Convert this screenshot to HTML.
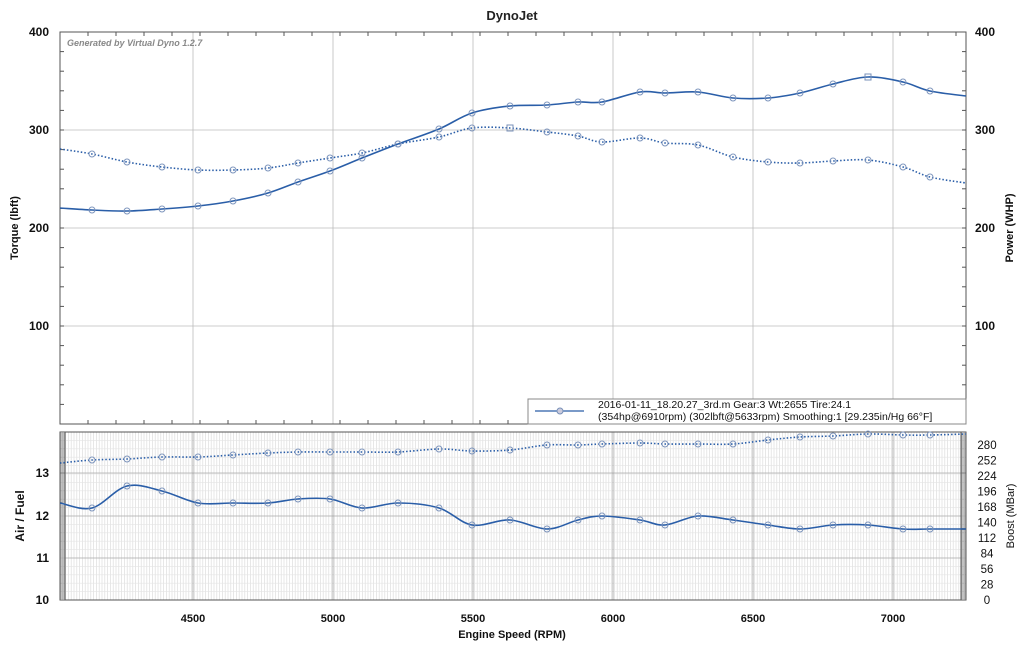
<!DOCTYPE html>
<html><head><meta charset="utf-8"><style>
body{margin:0;background:#fff;width:1024px;height:648px;overflow:hidden;font-family:"Liberation Sans",sans-serif}
svg text{font-family:"Liberation Sans",sans-serif}
</style></head><body>
<svg id="s" width="1024" height="648" xmlns="http://www.w3.org/2000/svg">
<rect width="1024" height="648" fill="#fff"/>
<text x="512" y="20" text-anchor="middle" font-size="13" font-weight="bold" fill="#222">DynoJet</text>
<g id="grid"></g>
<text x="67" y="46" font-size="9" font-style="italic" font-weight="bold" fill="#888">Generated by Virtual Dyno 1.2.7</text>
<g font-size="12" fill="#111" font-weight="bold">
<text x="49" y="36" text-anchor="end">400</text><text x="49" y="134" text-anchor="end">300</text>
<text x="49" y="232" text-anchor="end">200</text><text x="49" y="330" text-anchor="end">100</text>
<text x="975" y="36">400</text><text x="975" y="134">300</text><text x="975" y="232">200</text><text x="975" y="330">100</text>
<text x="49" y="477" text-anchor="end">13</text><text x="49" y="520" text-anchor="end">12</text>
<text x="49" y="562" text-anchor="end">11</text><text x="49" y="604" text-anchor="end">10</text>
</g>
<g font-size="11" fill="#111" font-weight="bold" text-anchor="middle">
<text x="193" y="622">4500</text><text x="333" y="622">5000</text><text x="473" y="622">5500</text>
<text x="613" y="622">6000</text><text x="753" y="622">6500</text><text x="893" y="622">7000</text>
<text x="512" y="638" font-size="11">Engine Speed (RPM)</text>
</g>
<g font-size="11.5" fill="#111" id="boostlbl"></g>
<text transform="translate(18,228) rotate(-90)" text-anchor="middle" font-size="11" font-weight="bold" fill="#111">Torque (lbft)</text>
<text transform="translate(1013,228) rotate(-90)" text-anchor="middle" font-size="11" font-weight="bold" fill="#111">Power (WHP)</text>
<text transform="translate(24,516) rotate(-90)" text-anchor="middle" font-size="12" font-weight="bold" fill="#111">Air / Fuel</text>
<text transform="translate(1014,516) rotate(-90)" text-anchor="middle" font-size="11" fill="#111">Boost (MBar)</text>
<g id="series"></g>
<rect x="528" y="399" width="438" height="25" fill="#fff" stroke="#888" stroke-width="1"/>
<line x1="535" y1="411" x2="584" y2="411" stroke="#2a5ea8" stroke-width="1.3"/>
<circle cx="560" cy="411" r="3" fill="#ccd" stroke="#7890b8"/>
<text x="598" y="408" font-size="10.5" fill="#111">2016-01-11_18.20.27_3rd.m Gear:3 Wt:2655 Tire:24.1</text>
<text x="598" y="420" font-size="10.5" fill="#111">(354hp@6910rpm) (302lbft@5633rpm) Smoothing:1 [29.235in/Hg 66°F]</text>
</svg>
<script>
const NS="http://www.w3.org/2000/svg";
function el(p,t,a){const e=document.createElementNS(NS,t);for(const k in a)e.setAttribute(k,a[k]);p.appendChild(e);return e}
const g=document.getElementById('grid');
for(let x=60;x<966;x+=2.8)el(g,'line',{x1:x,y1:432,x2:x,y2:600,stroke:'#ddd','stroke-width':0.7});
for(let i=0;i<=20;i++){let y=432+i*8.4;el(g,'line',{x1:60,y1:y,x2:966,y2:y,stroke:'#e4e4e4','stroke-width':0.6});}
[473,516,558].forEach(y=>el(g,'line',{x1:60,y1:y,x2:966,y2:y,stroke:'#aaa','stroke-width':0.8}));
[130,228,326].forEach(y=>el(g,'line',{x1:60,y1:y,x2:966,y2:y,stroke:'#bbb','stroke-width':0.8}));
[193,333,473,613,753,893].forEach(x=>{el(g,'line',{x1:x,y1:32,x2:x,y2:424,stroke:'#bbb','stroke-width':0.8});el(g,'line',{x1:x,y1:432,x2:x,y2:600,stroke:'#999','stroke-width':0.8});});
el(g,'rect',{x:60,y:32,width:906,height:392,fill:'none',stroke:'#555','stroke-width':1});
el(g,'rect',{x:60,y:432,width:906,height:168,fill:'none',stroke:'#555','stroke-width':1});
for(let y=432;y<600;y+=2){el(g,'line',{x1:60,y1:y,x2:65,y2:y,stroke:'#666','stroke-width':0.8});el(g,'line',{x1:961,y1:y,x2:966,y2:y,stroke:'#666','stroke-width':0.8});}
el(g,'rect',{x:60,y:432,width:5,height:168,fill:'none',stroke:'#555'});el(g,'rect',{x:961,y:432,width:5,height:168,fill:'none',stroke:'#555'});
for(let x=60+28;x<966;x+=28)el(g,'line',{x1:x,y1:32,x2:x,y2:36,stroke:'#555'});
for(let y=32;y<424;y+=19.6){el(g,'line',{x1:60,y1:y,x2:64,y2:y,stroke:'#555'});el(g,'line',{x1:962,y1:y,x2:966,y2:y,stroke:'#555'});}
for(let x=60+28;x<966;x+=28)el(g,'line',{x1:x,y1:420,x2:x,y2:424,stroke:'#555'});
const bl=document.getElementById('boostlbl');
[280,252,224,196,168,140,112,84,56,28,0].forEach((v,i)=>{const t=el(bl,'text',{x:987,y:449+i*15.5,'text-anchor':'middle'});t.textContent=v;});
function cr(pts){let d='M'+pts[0][0]+','+pts[0][1];for(let i=0;i<pts.length-1;i++){const p0=pts[Math.max(0,i-1)],p1=pts[i],p2=pts[i+1],p3=pts[Math.min(pts.length-1,i+2)];
const c1=[p1[0]+(p2[0]-p0[0])/6,p1[1]+(p2[1]-p0[1])/6],c2=[p2[0]-(p3[0]-p1[0])/6,p2[1]-(p3[1]-p1[1])/6];
d+=` C${c1[0].toFixed(1)},${c1[1].toFixed(1)} ${c2[0].toFixed(1)},${c2[1].toFixed(1)} ${p2[0]},${p2[1]}`;}return d}
const xs=[60,92,127,162,198,233,268,298,330,362,398,439,472,510,547,578,602,640,665,698,733,768,800,833,868,903,930,966];
const P=[208,210,211,209,206,201,193,182,171,158,144,129,113,106,105,102,102,92,93,92,98,98,93,84,77,82,91,96];
const T=[149,154,162,167,170,170,168,163,158,153,144,137,128,128,132,136,142,138,143,145,157,162,163,161,160,167,177,183];
const A=[503,508,486,491,503,503,503,499,499,508,503,508,525,520,529,520,516,520,525,516,520,525,529,525,525,529,529,529];
const B=[463,460,459,457,457,455,453,452,452,452,452,449,451,450,445,445,444,443,444,444,444,440,437,436,434,435,435,434];
const s=document.getElementById('series');const C='#2a5ea8';
function draw(ys,dash,sq){const pts=xs.map((x,i)=>[x,ys[i]]);
el(s,'path',{d:cr(pts),fill:'none',stroke:C,'stroke-width':1.6,'stroke-dasharray':dash?'1.5,2':'none'});
pts.forEach((p,i)=>{if(i==0||i==pts.length-1)return;if(sq===i)el(s,'rect',{x:p[0]-3,y:p[1]-3,width:6,height:6,fill:'none',stroke:'#7890b8'});else el(s,'circle',{cx:p[0],cy:p[1],r:3,fill:'none',stroke:'#7f96bd','stroke-width':1});});}
draw(P,false,24);draw(T,true,13);draw(A,false);draw(B,true);
</script>
</body></html>
